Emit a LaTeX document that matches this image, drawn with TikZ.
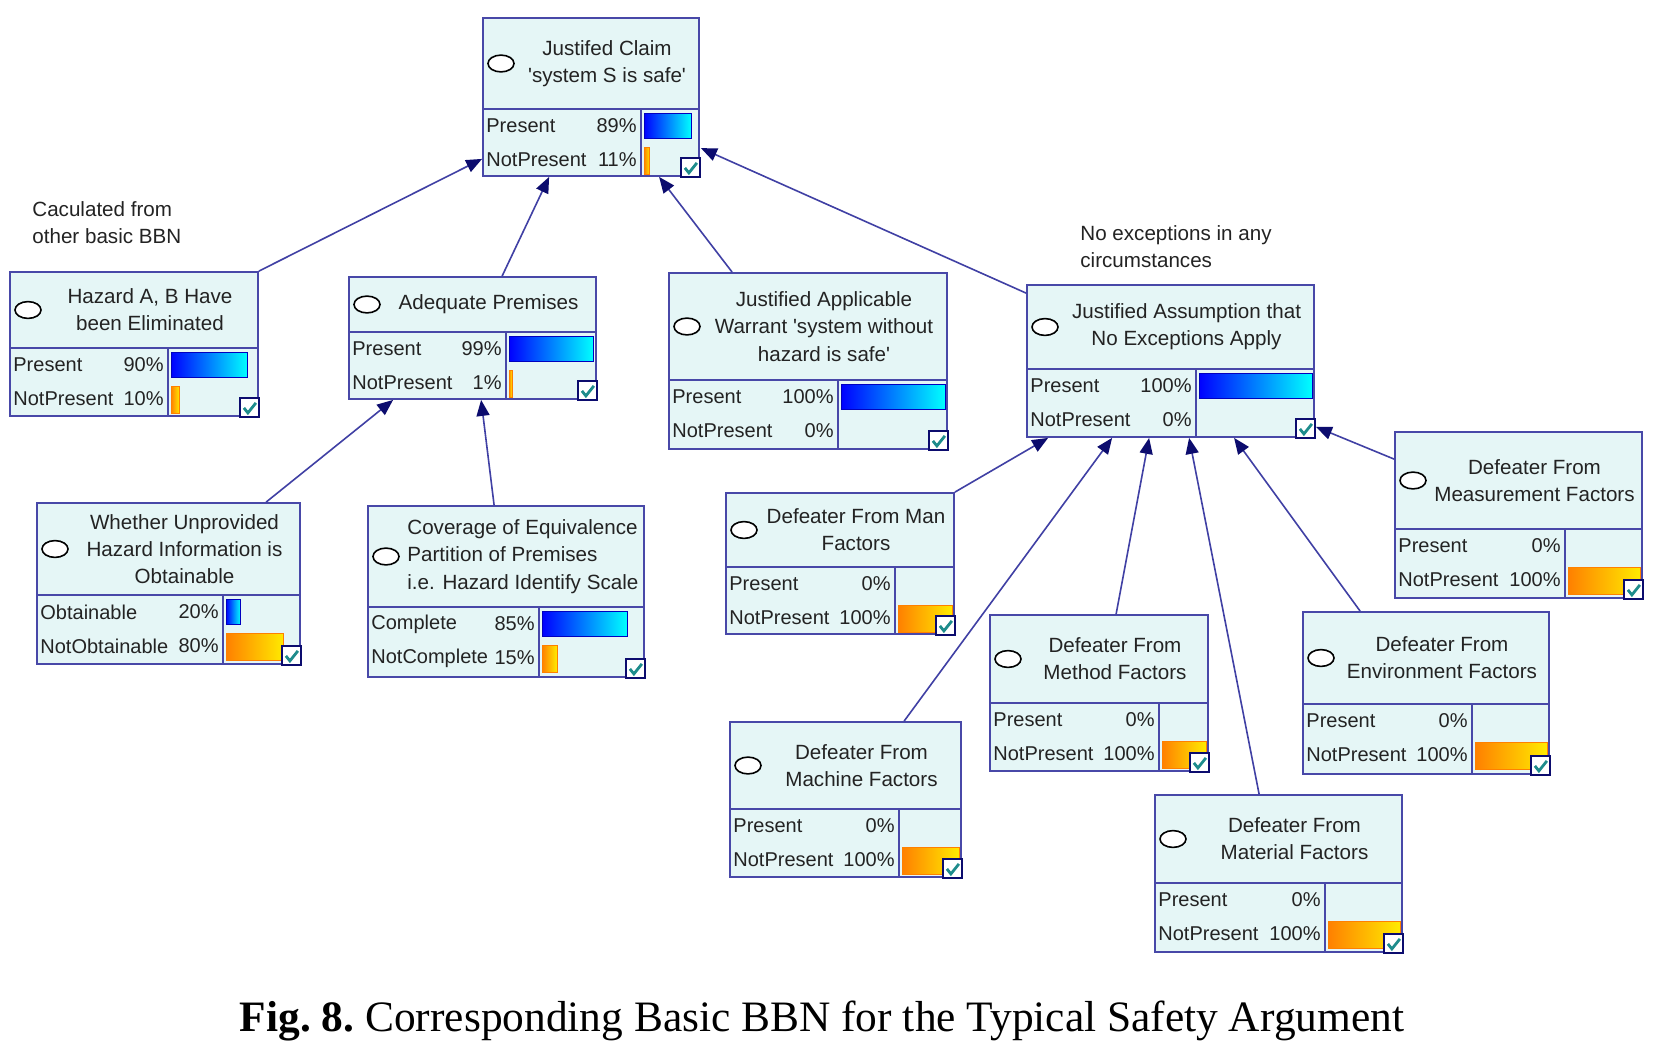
\documentclass[tikz,border=0pt]{standalone}
\usepackage{fontspec}
\setmainfont{Liberation Sans}[Ligatures=TeXOff]
\newfontfamily\capfont{Liberation Serif}
\usetikzlibrary{fit,calc,arrows.meta}
\definecolor{boxfill}{RGB}{229,246,246}
\definecolor{boxline}{RGB}{72,72,168}
\definecolor{edgec}{RGB}{64,64,164}
\definecolor{headc}{RGB}{12,12,110}
\definecolor{checkc}{RGB}{30,140,140}
\definecolor{txtc}{RGB}{35,35,35}
\definecolor{barorange}{RGB}{255,128,0}
\definecolor{baryellow}{RGB}{255,235,0}
\tikzset{
 bbnbox/.style={draw=boxline, fill=boxfill, line width=0.9pt, inner sep=0pt},
 bbnline/.style={draw=boxline, line width=0.9pt},
 oval/.style={draw=black, fill=white, line width=0.8pt},
 headtxt/.style={font=\fontsize{10.3}{13.6}\selectfont, text=txtc, align=center, inner sep=0pt},
 rowtxt/.style={font=\fontsize{10}{12}\selectfont, text=txtc, inner sep=0pt},
 note/.style={font=\fontsize{10.3}{13.6}\selectfont, text=txtc, align=left, inner sep=0pt, anchor=north west},
 edge/.style={draw=edgec, line width=0.8pt, -{Triangle[length=8pt,width=6.5pt,color=headc]}},
 bluebar/.style={left color=blue, right color=cyan, draw=blue!75!black, line width=0.5pt},
 orangebar/.style={left color=barorange, right color=baryellow, draw=barorange, line width=0.5pt},
 checkbox/.style={draw=headc, fill=white, line width=0.8pt},
 checkmark/.style={draw=checkc, line width=1.4pt},
}
\newcommand\bbngeom[7]{\def\bname{#1}\def\bxa{#2}\def\bya{#3}\def\bxb{#4}\def\byb{#5}\def\bhy{#6}\def\bsx{#7}%
  \node[bbnbox, fit={(#2,#3)(#4,#5)}] (#1) {};
  \draw[bbnline] (#2,#6) -- (#4,#6);
  \draw[bbnline] (#7,#6) -- (#7,#5);
  \draw[oval] (#2+18,{(#3+#6)/2}) ellipse [x radius=6.5pt, y radius=4.2pt];
}
\newcommand\bbnhead[1]{%
  \node[headtxt] at ({(\bxa+32+\bxb)/2},{(\bya+\bhy)/2}) {#1};
}
\newcommand\bbnrows[4]{%
  \node[rowtxt, anchor=west] at (\bxa+3, \bhy+17) {#1};
  \node[rowtxt, anchor=east] at (\bsx-4, \bhy+17) {#2\%};
  \node[rowtxt, anchor=west] at (\bxa+3, \bhy+51) {#3};
  \node[rowtxt, anchor=east] at (\bsx-4, \bhy+51) {#4\%};
  \pgfmathsetmacro\bW{\bxb-\bsx-5}%
  \ifnum#2>0\relax
    \pgfmathsetmacro\bwa{max(3,\bW*#2/100)}%
    \path[bluebar] (\bsx+3,\bhy+4) rectangle (\bsx+3+\bwa,\bhy+29);
  \fi
  \ifnum#4>0\relax
    \pgfmathsetmacro\bwb{max(3,\bW*#4/100)}%
    \path[orangebar] (\bsx+3,\bhy+38) rectangle (\bsx+3+\bwb,\bhy+65);
  \fi
  \path[checkbox] ($(\bname.south east)+(-19,-19)$) rectangle (\bname.south east);
  \draw[checkmark] ($(\bname.south east)+(-15,-9)$) -- ++(4,5) -- ++(8,-10);
}
\begin{document}
\begin{tikzpicture}[x=0.5pt,y=-0.5pt]
\useasboundingbox[fill=white] (0,0) rectangle (1670,1055);

% nodes
\bbngeom{claim}{483}{18}{699}{176}{109}{641}
\bbnhead{Justifed Claim\\'system S is safe'}
\bbnrows{Present}{89}{NotPresent}{11}

\bbngeom{hazard}{10}{272}{258}{416}{348}{168}
\bbnhead{Hazard A, B Have\\been Eliminated}
\bbnrows{Present}{90}{NotPresent}{10}

\bbngeom{premises}{349}{277}{596}{399}{332}{506}
\bbnhead{Adequate Premises}
\bbnrows{Present}{99}{NotPresent}{1}

\bbngeom{warrant}{669}{273}{947}{449}{380}{838}
\bbnhead{Justified Applicable\\Warrant 'system without\\hazard is safe'}
\bbnrows{Present}{100}{NotPresent}{0}

\bbngeom{assume}{1027}{285}{1314}{437}{369}{1196}
\bbnhead{Justified Assumption that\\No Exceptions Apply}
\bbnrows{Present}{100}{NotPresent}{0}

\bbngeom{unprov}{37}{503}{300}{664}{595}{223}
\bbnhead{Whether Unprovided\\Hazard Information is\\Obtainable}
\bbnrows{Obtainable}{20}{NotObtainable}{80}

\bbngeom{coverage}{368}{506}{644}{677}{607}{539}
\node[headtxt, align=left, anchor=west] at (407,{(506+607)/2}) {Coverage of Equivalence\\Partition of Premises\\i.e. Hazard Identify Scale};
\bbnrows{Complete}{85}{NotComplete}{15}

\bbngeom{man}{726}{493}{954}{634}{567}{895}
\bbnhead{Defeater From Man\\Factors}
\bbnrows{Present}{0}{NotPresent}{100}

\bbngeom{measure}{1395}{432}{1642}{598}{529}{1565}
\bbnhead{Defeater From\\Measurement Factors}
\bbnrows{Present}{0}{NotPresent}{100}

\bbngeom{method}{990}{615}{1208}{771}{703}{1159}
\bbnhead{Defeater From\\Method Factors}
\bbnrows{Present}{0}{NotPresent}{100}

\bbngeom{env}{1303}{612}{1549}{774}{704}{1472}
\bbnhead{Defeater From\\Environment Factors}
\bbnrows{Present}{0}{NotPresent}{100}

\bbngeom{machine}{730}{722}{961}{877}{809}{899}
\bbnhead{Defeater From\\Machine Factors}
\bbnrows{Present}{0}{NotPresent}{100}

\bbngeom{material}{1155}{795}{1402}{952}{883}{1325}
\bbnhead{Defeater From\\Material Factors}
\bbnrows{Present}{0}{NotPresent}{100}

% connectors
\draw[edge] (hazard.north east) -- ($(claim.south west)+(0,-18)$);
\draw[edge] ($(premises.north west)+(154,0)$) -- ($(claim.south west)+(67,0)$);
\draw[edge] ($(warrant.north west)+(64,0)$) -- ($(claim.south west)+(177,0)$);
\draw[edge] ($(assume.north west)+(0,9)$) -- ($(claim.north east)+(1,131)$);
\draw[edge] ($(unprov.north west)+(230,0)$) -- ($(premises.south west)+(45,0)$);
\draw[edge] ($(coverage.north west)+(127,0)$) -- ($(premises.south west)+(133,0)$);
\draw[edge] (man.north east) -- ($(assume.south west)+(22,0)$);
\draw[edge] ($(machine.north west)+(175,0)$) -- ($(assume.south west)+(86,0)$);
\draw[edge] ($(method.north west)+(127,0)$) -- ($(assume.south west)+(123,0)$);
\draw[edge] ($(material.north west)+(105,0)$) -- ($(assume.south west)+(163,0)$);
\draw[edge] ($(env.north west)+(58,0)$) -- ($(assume.south west)+(208,0)$);
\draw[edge] ($(measure.north west)+(0,28)$) -- ($(assume.south east)+(1,-11)$);

% annotations
\node[note] (note1) at (32,201) {Caculated from\\other basic BBN};
\node[note] (note2) at (1080,225) {No exceptions in any\\circumstances};

% caption
\node[font=\capfont\fontsize{21.7}{26}\selectfont, anchor=base, inner sep=0pt] (caption) at (822,1031)
  {\frenchspacing\textbf{Fig. 8.} Corresponding Basic BBN for the Typical Safety Argument};
\end{tikzpicture}
\end{document}
